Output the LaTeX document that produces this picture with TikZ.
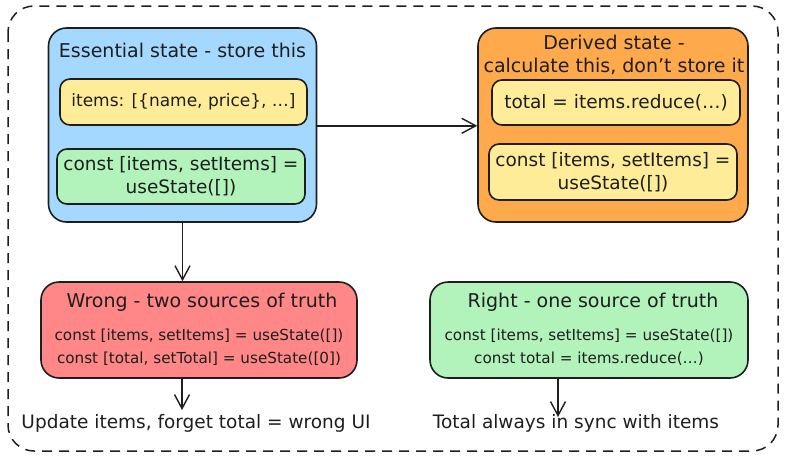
\documentclass[tikz,border=0pt]{standalone}
\usepackage{fontspec}
\setmainfont{DejaVu Sans}
\usetikzlibrary{arrows.meta}
\definecolor{ink}{HTML}{1E1E1E}
\definecolor{cblue}{HTML}{A5D8FF}
\definecolor{cyellow}{HTML}{FFEC99}
\definecolor{cgreen}{HTML}{B2F2BB}
\definecolor{corange}{HTML}{FFA94D}
\definecolor{cred}{HTML}{FF8787}
\tikzset{
  box/.style={draw=ink, line width=1.6pt, rounded corners=#1, inner sep=0pt, align=center},
  box/.default=18pt,
  title/.style={font=\fontsize{19}{23}\selectfont, text=ink, inner sep=0pt, align=center},
  code/.style={font=\fontsize{18.5}{23}\selectfont, text=ink, align=center, inner sep=0pt},
  codenarrow/.style={font=\fontsize{17}{23}\selectfont, text=ink, align=center, inner sep=0pt},
  small/.style={font=\fontsize{15.2}{23}\selectfont, text=ink, align=center, inner sep=0pt},
  label/.style={font=\fontsize{18.5}{23}\selectfont, text=ink, inner sep=0pt, align=center},
  conn/.style={draw=ink, line width=1.4pt, -{Straight Barb[length=14pt,width=15pt,line width=1.4pt]}},
}
\begin{document}
\begin{tikzpicture}[x=1pt,y=-1pt]
\useasboundingbox (0,0) rectangle (786,463);
% outer frame
\draw[ink, line width=1.5pt, dash pattern=on 10pt off 7pt, rounded corners=26pt] (8,6) rectangle (778,451);

% essential state
\node[box, fill=cblue, minimum width=268pt, minimum height=194pt] (ess) at (182.5,125) {};
\node[title] (esst) at (182.5,50) {Essential state - store this};
\node[box=10pt, fill=cyellow, minimum width=247pt, minimum height=46pt, codenarrow] (essa) at (183.5,102) {items: [\{name, price\}, …]};
\node[box=10pt, fill=cgreen, minimum width=248pt, minimum height=55pt, code] (essb) at (181,176.5) {const [items, setItems] =\\useState([])};

% derived state
\node[box, fill=corange, minimum width=270pt, minimum height=194pt] (der) at (613,125) {};
\node[title] (dert) at (614,55) {Derived state -\\calculate this, don’t store it};
\node[box=10pt, fill=cyellow, minimum width=248pt, minimum height=45pt, code] (dera) at (616,102.5) {total = items.reduce(…)};
\node[box=10pt, fill=cyellow, minimum width=248pt, minimum height=56pt, code] (derb) at (613,172) {const [items, setItems] =\\useState([])};

% wrong
\node[box, fill=cred, minimum width=316pt, minimum height=96pt] (wrong) at (199,330) {};
\node[title] (wrongt) at (202,302) {Wrong - two sources of truth};
\node[small] (wrongc) at (199,347.5) {const [items, setItems] = useState([])\\const [total, setTotal] = useState([0])};
\node[label] (wrongr) at (196,423) {Update items, forget total = wrong UI};

% right
\node[box, fill=cgreen, minimum width=318pt, minimum height=96pt] (right) at (589,330) {};
\node[title] (rightt) at (593,302) {Right - one source of truth};
\node[small] (rightc) at (589,347.5) {const [items, setItems] = useState([])\\const total = items.reduce(…)};
\node[label] (rightr) at (576,423) {Total always in sync with items};

% connectors
\draw[conn] (ess.east |- essa.south) -- (der.west |- essa.south);
\draw[conn] (ess.south) -- (wrong.north -| ess.south);
\coordinate (wend) at (182,410);
\draw[conn] (wrong.south -| wend) -- (wend);
\coordinate (rend) at (558,417);
\draw[conn] (right.south -| rend) -- (rend);
\end{tikzpicture}
\end{document}
